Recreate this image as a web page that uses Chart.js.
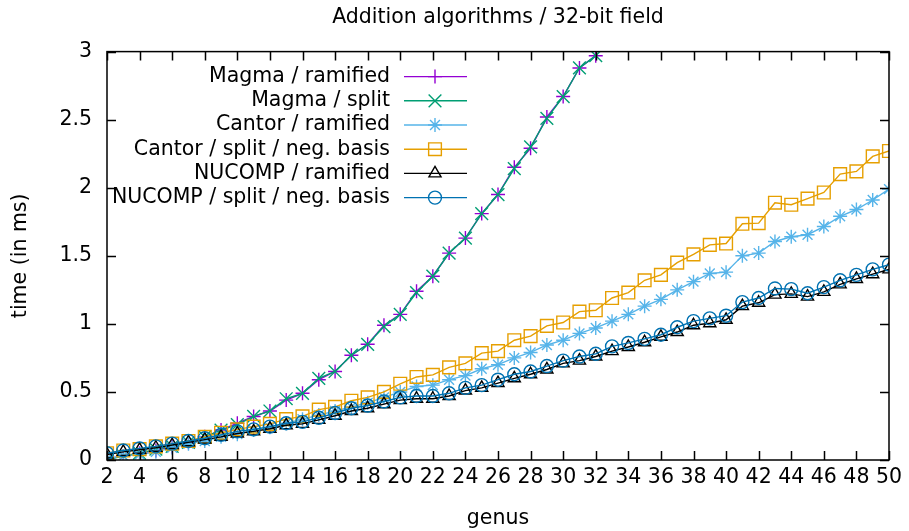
<!DOCTYPE html>
<html>
<head>
<meta charset="utf-8">
<script src="https://cdn.jsdelivr.net/npm/chart.js@4/dist/chart.umd.min.js"></script>
<style>
  html, body { margin: 0; padding: 0; background: #fff; }
  #wrap { width: 909px; height: 531px; }
</style>
</head>
<body>
<div id="wrap"><canvas id="chart" width="909" height="531"></canvas></div>
<script>
const genus = [2, 3, 4, 5, 6, 7, 8, 9, 10, 11, 12, 13, 14, 15, 16, 17, 18, 19, 20, 21, 22, 23, 24, 25, 26,
  27, 28, 29, 30, 31, 32, 33, 34, 35, 36, 37, 38, 39, 40, 41, 42, 43, 44, 45, 46, 47, 48, 49, 50]

// magma runs go off the top after genus 32
const magmaRamified = [0.01, 0.03, 0.05, 0.07, 0.10, 0.13, 0.17, 0.22, 0.27, 0.32, 0.36, 0.44, 0.49, 0.59,
  0.65, 0.77, 0.85, 0.99, 1.07, 1.24, 1.35, 1.52, 1.63, 1.81, 1.95, 2.15, 2.29, 2.52, 2.67, 2.88, 2.97]
const magmaSplit = [0.00, 0.03, 0.05, 0.08, 0.10, 0.13, 0.17, 0.22, 0.26, 0.32, 0.36, 0.45, 0.49, 0.60,
  0.65, 0.77, 0.85, 0.98, 1.07, 1.23, 1.35, 1.52, 1.63, 1.81, 1.95, 2.14, 2.30, 2.51, 2.67, 2.88, 2.97]
const cantorRamified = [0.01, 0.03, 0.04, 0.06, 0.09, 0.12, 0.14, 0.17, 0.19, 0.22, 0.24, 0.27, 0.30, 0.33,
  0.36, 0.39, 0.42, 0.46, 0.50, 0.54, 0.55, 0.59, 0.62, 0.67, 0.70, 0.75, 0.79, 0.845, 0.88, 0.93, 0.97,
  1.02, 1.07, 1.13, 1.18, 1.25, 1.31, 1.37, 1.38, 1.50, 1.52, 1.605, 1.64, 1.655, 1.715, 1.79, 1.84, 1.91, 1.99]
const cantorSplit = [0.05, 0.07, 0.08, 0.10, 0.12, 0.14, 0.17, 0.20, 0.225, 0.245, 0.265, 0.30, 0.32, 0.37,
  0.39, 0.435, 0.46, 0.50, 0.56, 0.61, 0.625, 0.68, 0.71, 0.785, 0.80, 0.88, 0.91, 0.985, 1.01, 1.09, 1.10,
  1.19, 1.23, 1.32, 1.36, 1.45, 1.51, 1.58, 1.59, 1.735, 1.74, 1.89, 1.875, 1.92, 1.965, 2.10, 2.12, 2.23, 2.27]
const nucompRamified = [0.04, 0.06, 0.075, 0.09, 0.11, 0.13, 0.15, 0.17, 0.195, 0.21, 0.23, 0.255, 0.265, 0.295,
  0.325, 0.36, 0.38, 0.41, 0.44, 0.45, 0.45, 0.47, 0.51, 0.53, 0.565, 0.60, 0.63, 0.665, 0.71, 0.73, 0.76,
  0.80, 0.83, 0.865, 0.905, 0.94, 0.99, 1.005, 1.03, 1.13, 1.155, 1.215, 1.22, 1.20, 1.235, 1.29, 1.33, 1.365, 1.40]
const nucompSplit = [0.05, 0.07, 0.085, 0.10, 0.12, 0.14, 0.16, 0.185, 0.21, 0.225, 0.245, 0.27, 0.28, 0.31,
  0.345, 0.38, 0.40, 0.43, 0.46, 0.47, 0.47, 0.49, 0.53, 0.55, 0.59, 0.63, 0.65, 0.69, 0.73, 0.76, 0.78,
  0.835, 0.86, 0.89, 0.92, 0.975, 1.02, 1.04, 1.06, 1.16, 1.19, 1.26, 1.255, 1.225, 1.27, 1.32, 1.36, 1.40, 1.435]

const FONT = 'DejaVu Sans'
const FONT_SIZE = 20.5

function points(values) {
  return values.map((v, i) => ({ x: genus[i], y: v }))
}

const series = [
  { label: 'Magma / ramified', values: magmaRamified, color: '#9400d3', style: 'cross', radius: 7 },
  { label: 'Magma / split', values: magmaSplit, color: '#009e73', style: 'crossRot', radius: 9 },
  { label: 'Cantor / ramified', values: cantorRamified, color: '#56b4e9', style: 'star', radius: 7 },
  { label: 'Cantor / split / neg. basis', values: cantorSplit, color: '#e69f00', style: 'rect', radius: 9 },
  { label: 'NUCOMP / ramified', values: nucompRamified, color: '#000000', style: 'triangle', radius: 7 },
  { label: 'NUCOMP / split / neg. basis', values: nucompSplit, color: '#0072b2', style: 'circle', radius: 6.5 }
]

const datasets = series.map((s, i) => ({
  label: s.label,
  data: points(s.values),
  borderColor: s.color,
  backgroundColor: 'rgba(0,0,0,0)',
  borderWidth: 1.4,
  pointStyle: s.style,
  pointRadius: s.radius,
  pointBorderColor: s.color,
  pointBackgroundColor: 'rgba(0,0,0,0)',
  pointBorderWidth: 1.4,
  tension: 0,
  // gnuplot draws later series on top
  order: series.length - i
}))

// box around the plot with inward ticks on all four sides
const frame = {
  id: 'frame',
  afterDatasetsDraw(chart) {
    const { ctx, chartArea: a, scales } = chart
    const len = 9
    ctx.save()
    ctx.strokeStyle = '#000'
    ctx.lineWidth = 1.5
    ctx.beginPath()
    scales.x.ticks.forEach(t => {
      const px = Math.round(scales.x.getPixelForValue(t.value)) + 0.5
      ctx.moveTo(px, a.bottom); ctx.lineTo(px, a.bottom - len)
      ctx.moveTo(px, a.top); ctx.lineTo(px, a.top + len)
    })
    scales.y.ticks.forEach(t => {
      const py = Math.round(scales.y.getPixelForValue(t.value)) + 0.5
      ctx.moveTo(a.left, py); ctx.lineTo(a.left + len, py)
      ctx.moveTo(a.right, py); ctx.lineTo(a.right - len, py)
    })
    ctx.stroke()
    ctx.strokeRect(a.left, a.top, a.right - a.left, a.bottom - a.top)
    ctx.restore()
  }
}

// gnuplot-style key: text right aligned, then line sample with marker
const key = {
  id: 'key',
  afterDatasetsDraw(chart) {
    const { ctx, chartArea: a } = chart
    ctx.save()
    ctx.font = FONT_SIZE + 'px "' + FONT + '"'
    ctx.textAlign = 'right'
    ctx.textBaseline = 'middle'
    chart.data.datasets.forEach((ds, i) => {
      const y = a.top + 25 + i * 24.2
      const textRight = a.left + 283
      ctx.fillStyle = '#000'
      ctx.fillText(ds.label, textRight, y)
      ctx.strokeStyle = ds.borderColor
      ctx.lineWidth = ds.borderWidth
      ctx.beginPath()
      ctx.moveTo(textRight + 14, y)
      ctx.lineTo(textRight + 77, y)
      ctx.stroke()
      ctx.fillStyle = 'rgba(0,0,0,0)'
      Chart.helpers.drawPoint(ctx, {
        pointStyle: ds.pointStyle,
        radius: ds.pointRadius,
        rotation: 0,
        borderWidth: ds.pointBorderWidth
      }, textRight + 45, y)
    })
    ctx.restore()
  }
}

new Chart(document.getElementById('chart'), {
  type: 'line',
  data: { datasets },
  plugins: [frame, key],
  options: {
    responsive: false,
    animation: false,
    layout: { padding: { left: 0, right: 20, top: 0, bottom: 0 } },
    plugins: {
      legend: { display: false },
      tooltip: { enabled: false },
      title: {
        display: true,
        text: 'Addition algorithms / 32-bit field',
        fullSize: false,
        color: '#000',
        font: { family: FONT, size: FONT_SIZE, weight: 'normal' },
        padding: { top: 5, bottom: 22 }
      }
    },
    scales: {
      x: {
        type: 'linear',
        min: 2,
        max: 50,
        grid: { display: false, drawTicks: false },
        border: { display: false },
        ticks: { stepSize: 2, color: '#000', padding: 5, maxRotation: 0, autoSkip: false, font: { family: FONT, size: FONT_SIZE } },
        title: { display: true, text: 'genus', color: '#000', font: { family: FONT, size: FONT_SIZE }, padding: { top: 0, bottom: 0 } },
        afterFit(scale) { scale.height = 71 }
      },
      y: {
        type: 'linear',
        min: 0,
        max: 3,
        grid: { display: false, drawTicks: false },
        border: { display: false },
        ticks: {
          stepSize: 0.5,
          color: '#000',
          padding: 15,
          font: { family: FONT, size: FONT_SIZE },
          callback: v => String(v)
        },
        title: { display: true, text: 'time (in ms)', color: '#000', font: { family: FONT, size: FONT_SIZE }, padding: { top: 8, bottom: 0 } },
        afterFit(scale) { scale.width = 107 }
      }
    }
  }
})
</script>
</body>
</html>
